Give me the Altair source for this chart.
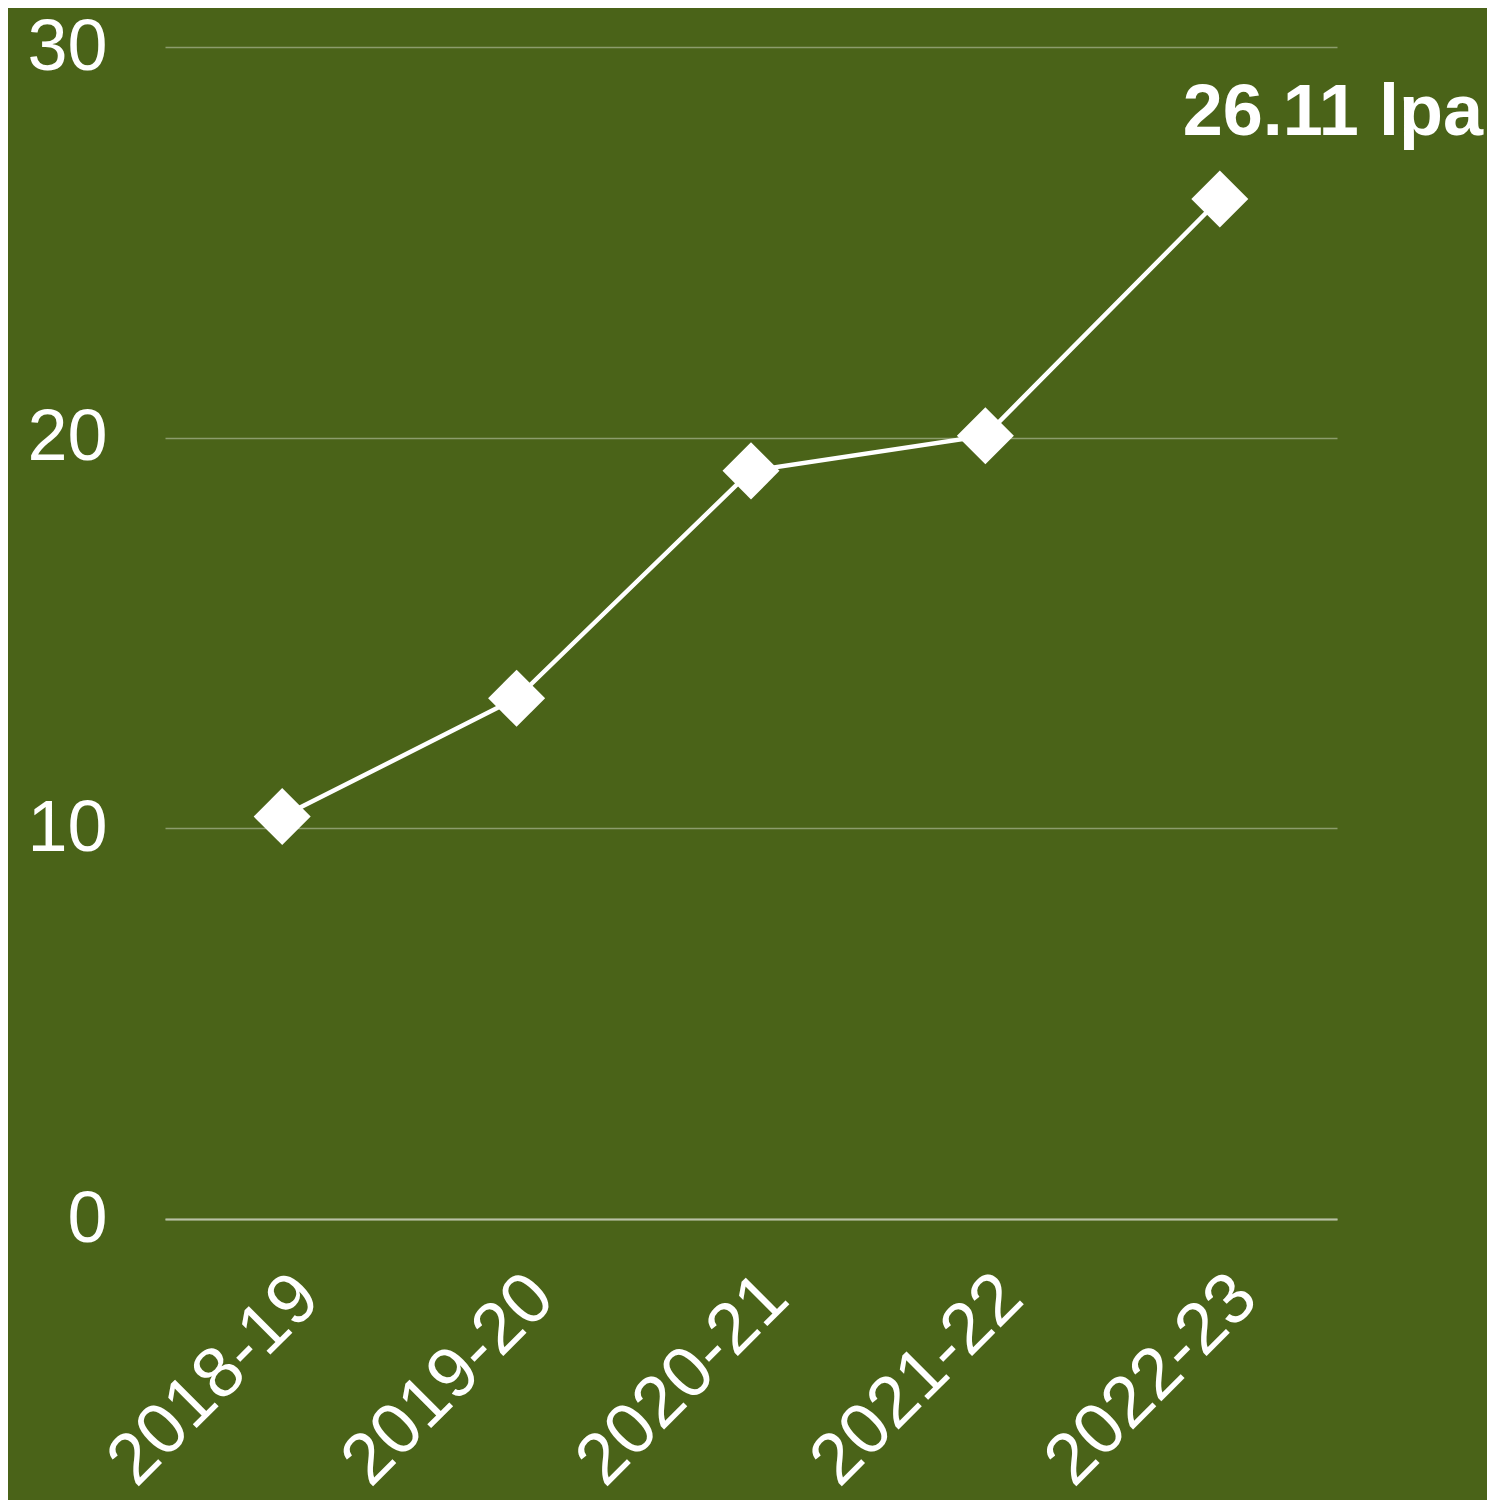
import altair as alt
import pandas as pd

years = ["2018-19", "2019-20", "2020-21", "2021-22", "2022-23"]
values = [10.30, 13.33, 19.15, 20.05, 26.11]
annotations = ["", "", "", "", "26.11 lpa"]

df = pd.DataFrame({"year": years, "value": values, "note": annotations})

BG = "#4a6318"
FONT = "Liberation Sans"

x = alt.X(
    "year:N",
    sort=years,
    scale=alt.Scale(type="point", padding=0.5),
    axis=alt.Axis(
        title=None,
        labelAngle=-45,
        labelFontSize=72,
        labelColor="white",
        labelFont=FONT,
        labelPadding=42,
        labelLimit=0,
        ticks=False,
        tickSize=0,
        domain=True,
        domainColor="#b9c1a6",
        domainWidth=2,
        grid=False,
    ),
)
y = alt.Y(
    "value:Q",
    scale=alt.Scale(domain=[0, 30], nice=False),
    axis=alt.Axis(
        title=None,
        values=[0, 10, 20, 30],
        labelFontSize=72,
        labelColor="white",
        labelFont=FONT,
        labelPadding=58,
        ticks=False,
        tickSize=0,
        domain=False,
        grid=True,
        gridColor="#8c9c6c",
        gridWidth=1.5,
    ),
)

base = alt.Chart(df)

line = base.mark_line(color="white", strokeWidth=4.5).encode(x=x, y=y)
points = base.mark_point(
    shape="diamond", size=3250, filled=True, color="white", opacity=1
).encode(x=x, y=y)
label = (
    base.transform_filter("datum.note != ''")
    .mark_text(
        font=FONT,
        fontSize=72,
        fontWeight="bold",
        color="white",
        align="center",
        baseline="alphabetic",
        dx=113,
        dy=-64,
    )
    .encode(x=x, y=y, text="note:N")
)

chart = (
    alt.layer(line, points, label)
    .properties(
        width=1172,
        height=1172,
        autosize=alt.AutoSizeParams(type="none"),
        padding={"left": 157, "top": 39, "right": 150, "bottom": 281},
        background=BG,
    )
    .configure_view(stroke=None)
)

chart.save("out.html", embed_options={"renderer": "svg", "actions": False})
